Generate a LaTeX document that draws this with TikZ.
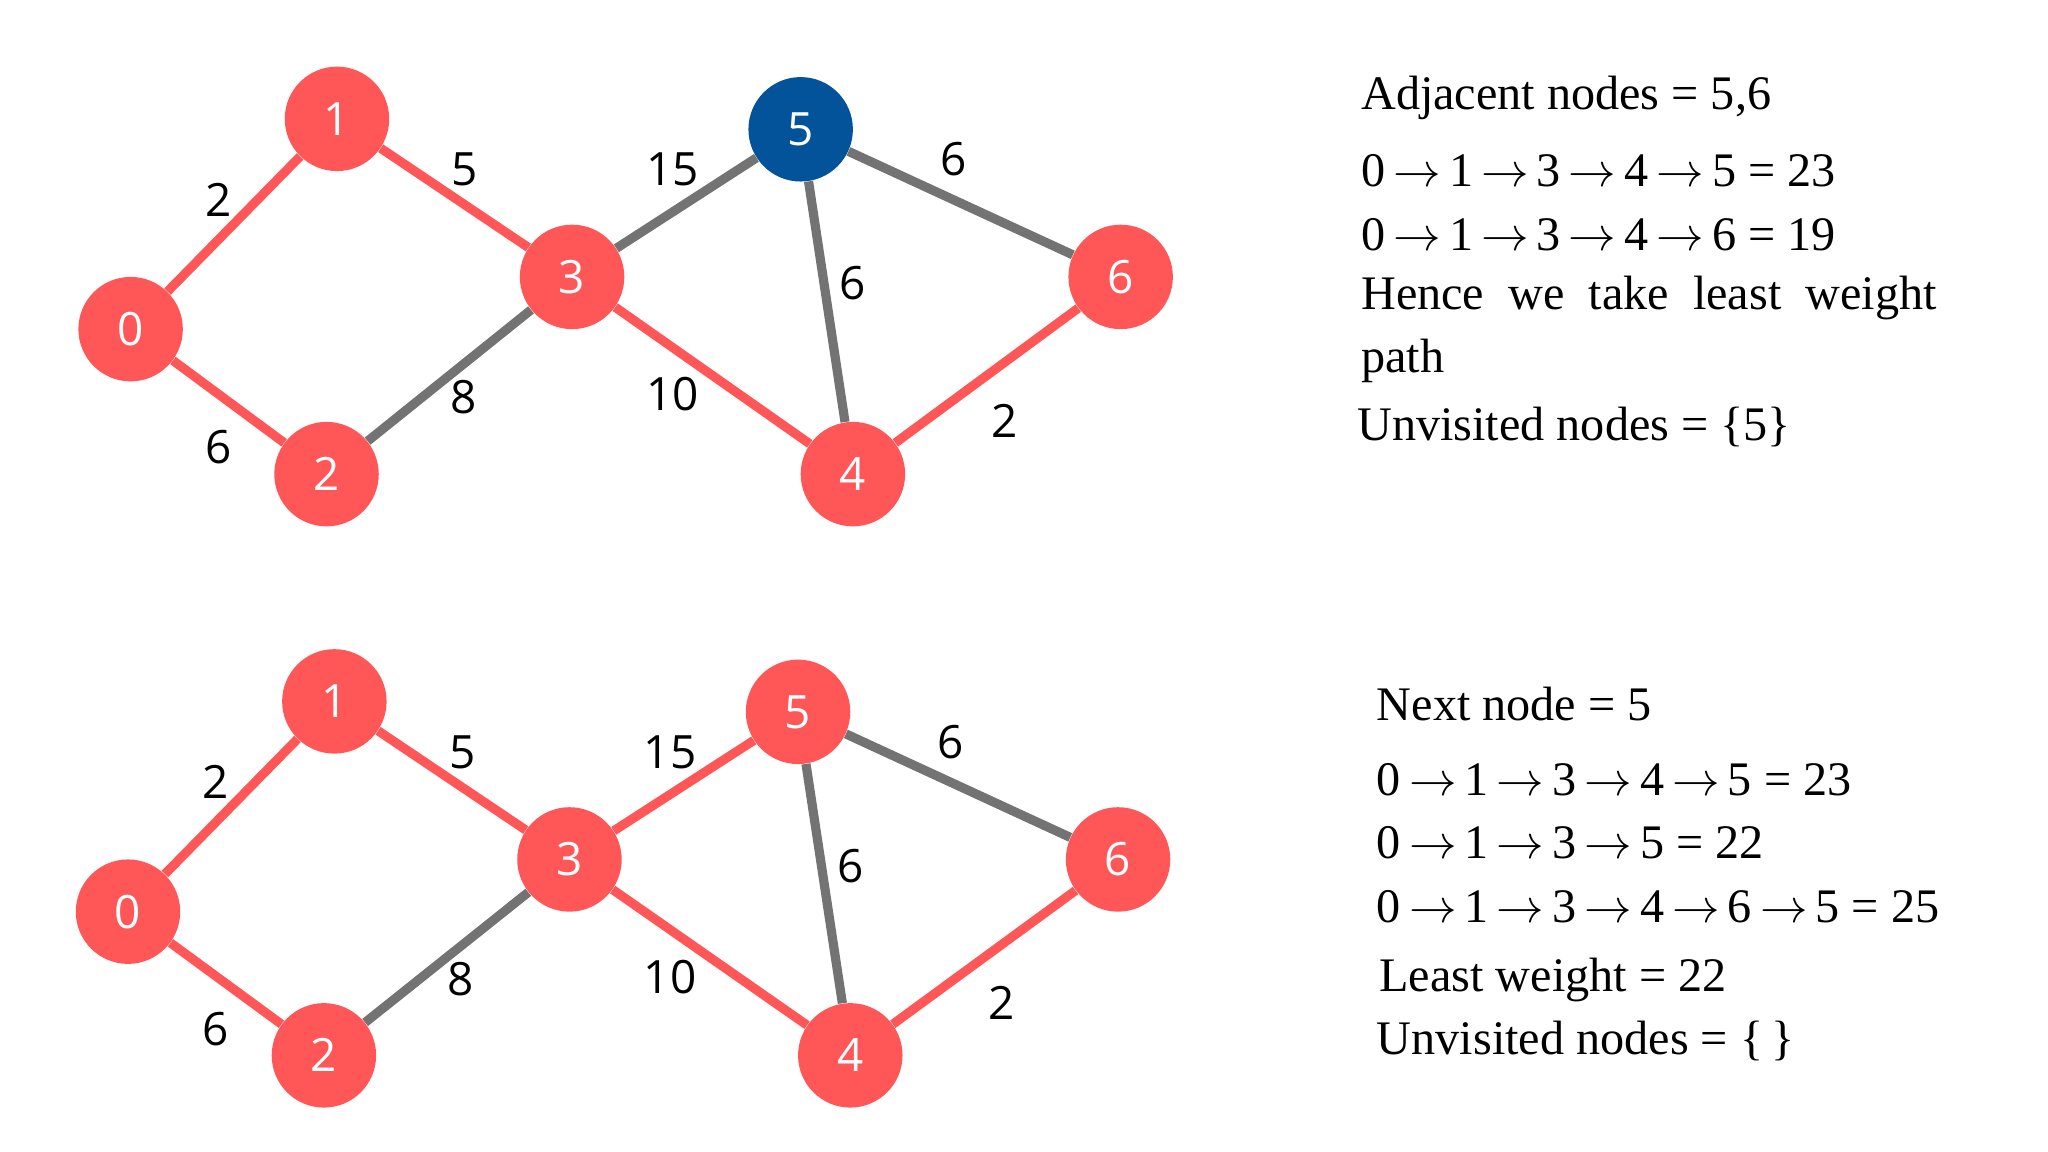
\documentclass[tikz,border=0pt]{standalone}
\usepackage{fontspec}
\setmainfont{Liberation Serif}
\newfontfamily\labelfont{Open Sans}
\definecolor{nodered}{HTML}{FF5757}
\definecolor{nodeblue}{HTML}{03539A}
\definecolor{edgegrey}{HTML}{737373}
\newcommand{\stepto}{\,$\rightarrow$\,}
\begin{document}
\begin{tikzpicture}[x=0.02cm,y=-0.02cm,
        vertex/.style={
            circle,
            fill=nodered,
            minimum size=1.6cm,
            inner sep=0pt,
            text=white,
            font=\labelfont\fontsize{20}{24}\selectfont},
        current/.style={
            vertex,
            fill=nodeblue},
        done/.style={
            draw=nodered,
            line width=4pt},
        open/.style={
            draw=edgegrey,
            line width=4pt},
        weight/.style={
            font=\labelfont\fontsize{20}{24}\selectfont},
        info/.style={
            anchor=west,
            font=\fontsize{21}{25}\selectfont}
        ]
        \useasboundingbox (0,0) rectangle (1568,882);

        % top graph
        \node (a0) [vertex] at (100,252) {0};
        \node (a1) [vertex] at (258,91) {1};
        \node (a2) [vertex] at (250,363) {2};
        \node (a3) [vertex] at (438,212) {3};
        \node (a4) [vertex] at (653,363) {4};
        \node (a5) [current] at (613,99) {5};
        \node (a6) [vertex] at (858,212) {6};

        \draw [done] (a0) -- (a1);
        \draw [done] (a0) -- (a2);
        \draw [done] (a1) -- (a3);
        \draw [open] (a2) -- (a3);
        \draw [open] (a3) -- (a5);
        \draw [done] (a3) -- (a4);
        \draw [open] (a5) -- (a4);
        \draw [open] (a5) -- (a6);
        \draw [done] (a4) -- (a6);

        \node (wa01) [weight] at (167,153) {2};
        \node (wa02) [weight] at (167,342) {6};
        \node (wa13) [weight] at (356,130) {5};
        \node (wa23) [weight] at (355,304) {8};
        \node (wa35) [weight] at (515,130) {15};
        \node (wa34) [weight] at (515,302) {10};
        \node (wa54) [weight] at (653,217) {6};
        \node (wa56) [weight] at (730,122) {6};
        \node (wa46) [weight] at (769,322) {2};

        % bottom graph
        \node (b0) [vertex] at (98,698) {0};
        \node (b1) [vertex] at (256,537) {1};
        \node (b2) [vertex] at (248,808) {2};
        \node (b3) [vertex] at (436,658) {3};
        \node (b4) [vertex] at (651,808) {4};
        \node (b5) [vertex] at (611,545) {5};
        \node (b6) [vertex] at (856,658) {6};

        \draw [done] (b0) -- (b1);
        \draw [done] (b0) -- (b2);
        \draw [done] (b1) -- (b3);
        \draw [open] (b2) -- (b3);
        \draw [done] (b3) -- (b5);
        \draw [done] (b3) -- (b4);
        \draw [open] (b5) -- (b4);
        \draw [open] (b5) -- (b6);
        \draw [done] (b4) -- (b6);

        \node (wb01) [weight] at (165,599) {2};
        \node (wb02) [weight] at (165,788) {6};
        \node (wb13) [weight] at (354,576) {5};
        \node (wb23) [weight] at (353,750) {8};
        \node (wb35) [weight] at (513,576) {15};
        \node (wb34) [weight] at (513,748) {10};
        \node (wb54) [weight] at (651,663) {6};
        \node (wb56) [weight] at (728,568) {6};
        \node (wb46) [weight] at (767,768) {2};

        % notes
        \node (ta) [info] at (1036,75) {Adjacent nodes = 5,6};
        \node (tb) [info] at (1036,131) {0\stepto1\stepto3\stepto4\stepto5 = 23};
        \node (tc) [info] at (1036,180) {0\stepto1\stepto3\stepto4\stepto6 = 19};
        \node (td) [info] at (1036,228) {Hence\ \ we\ \ take\ \ least\ \ weight};
        \node (te) [info] at (1036,276) {path};
        \node (tf) [info] at (1033,327) {Unvisited nodes = \{5\}};

        \node (ua) [info] at (1048,539) {Next node = 5};
        \node (ub) [info] at (1048,597) {0\stepto1\stepto3\stepto4\stepto5 = 23};
        \node (uc) [info] at (1048,645) {0\stepto1\stepto3\stepto5 = 22};
        \node (ud) [info] at (1048,694) {0\stepto1\stepto3\stepto4\stepto6\stepto5 = 25};
        \node (ue) [info] at (1050,750) {Least weight = 22};
        \node (uf) [info] at (1048,797) {Unvisited nodes = \{\,\}};
\end{tikzpicture}
\end{document}
